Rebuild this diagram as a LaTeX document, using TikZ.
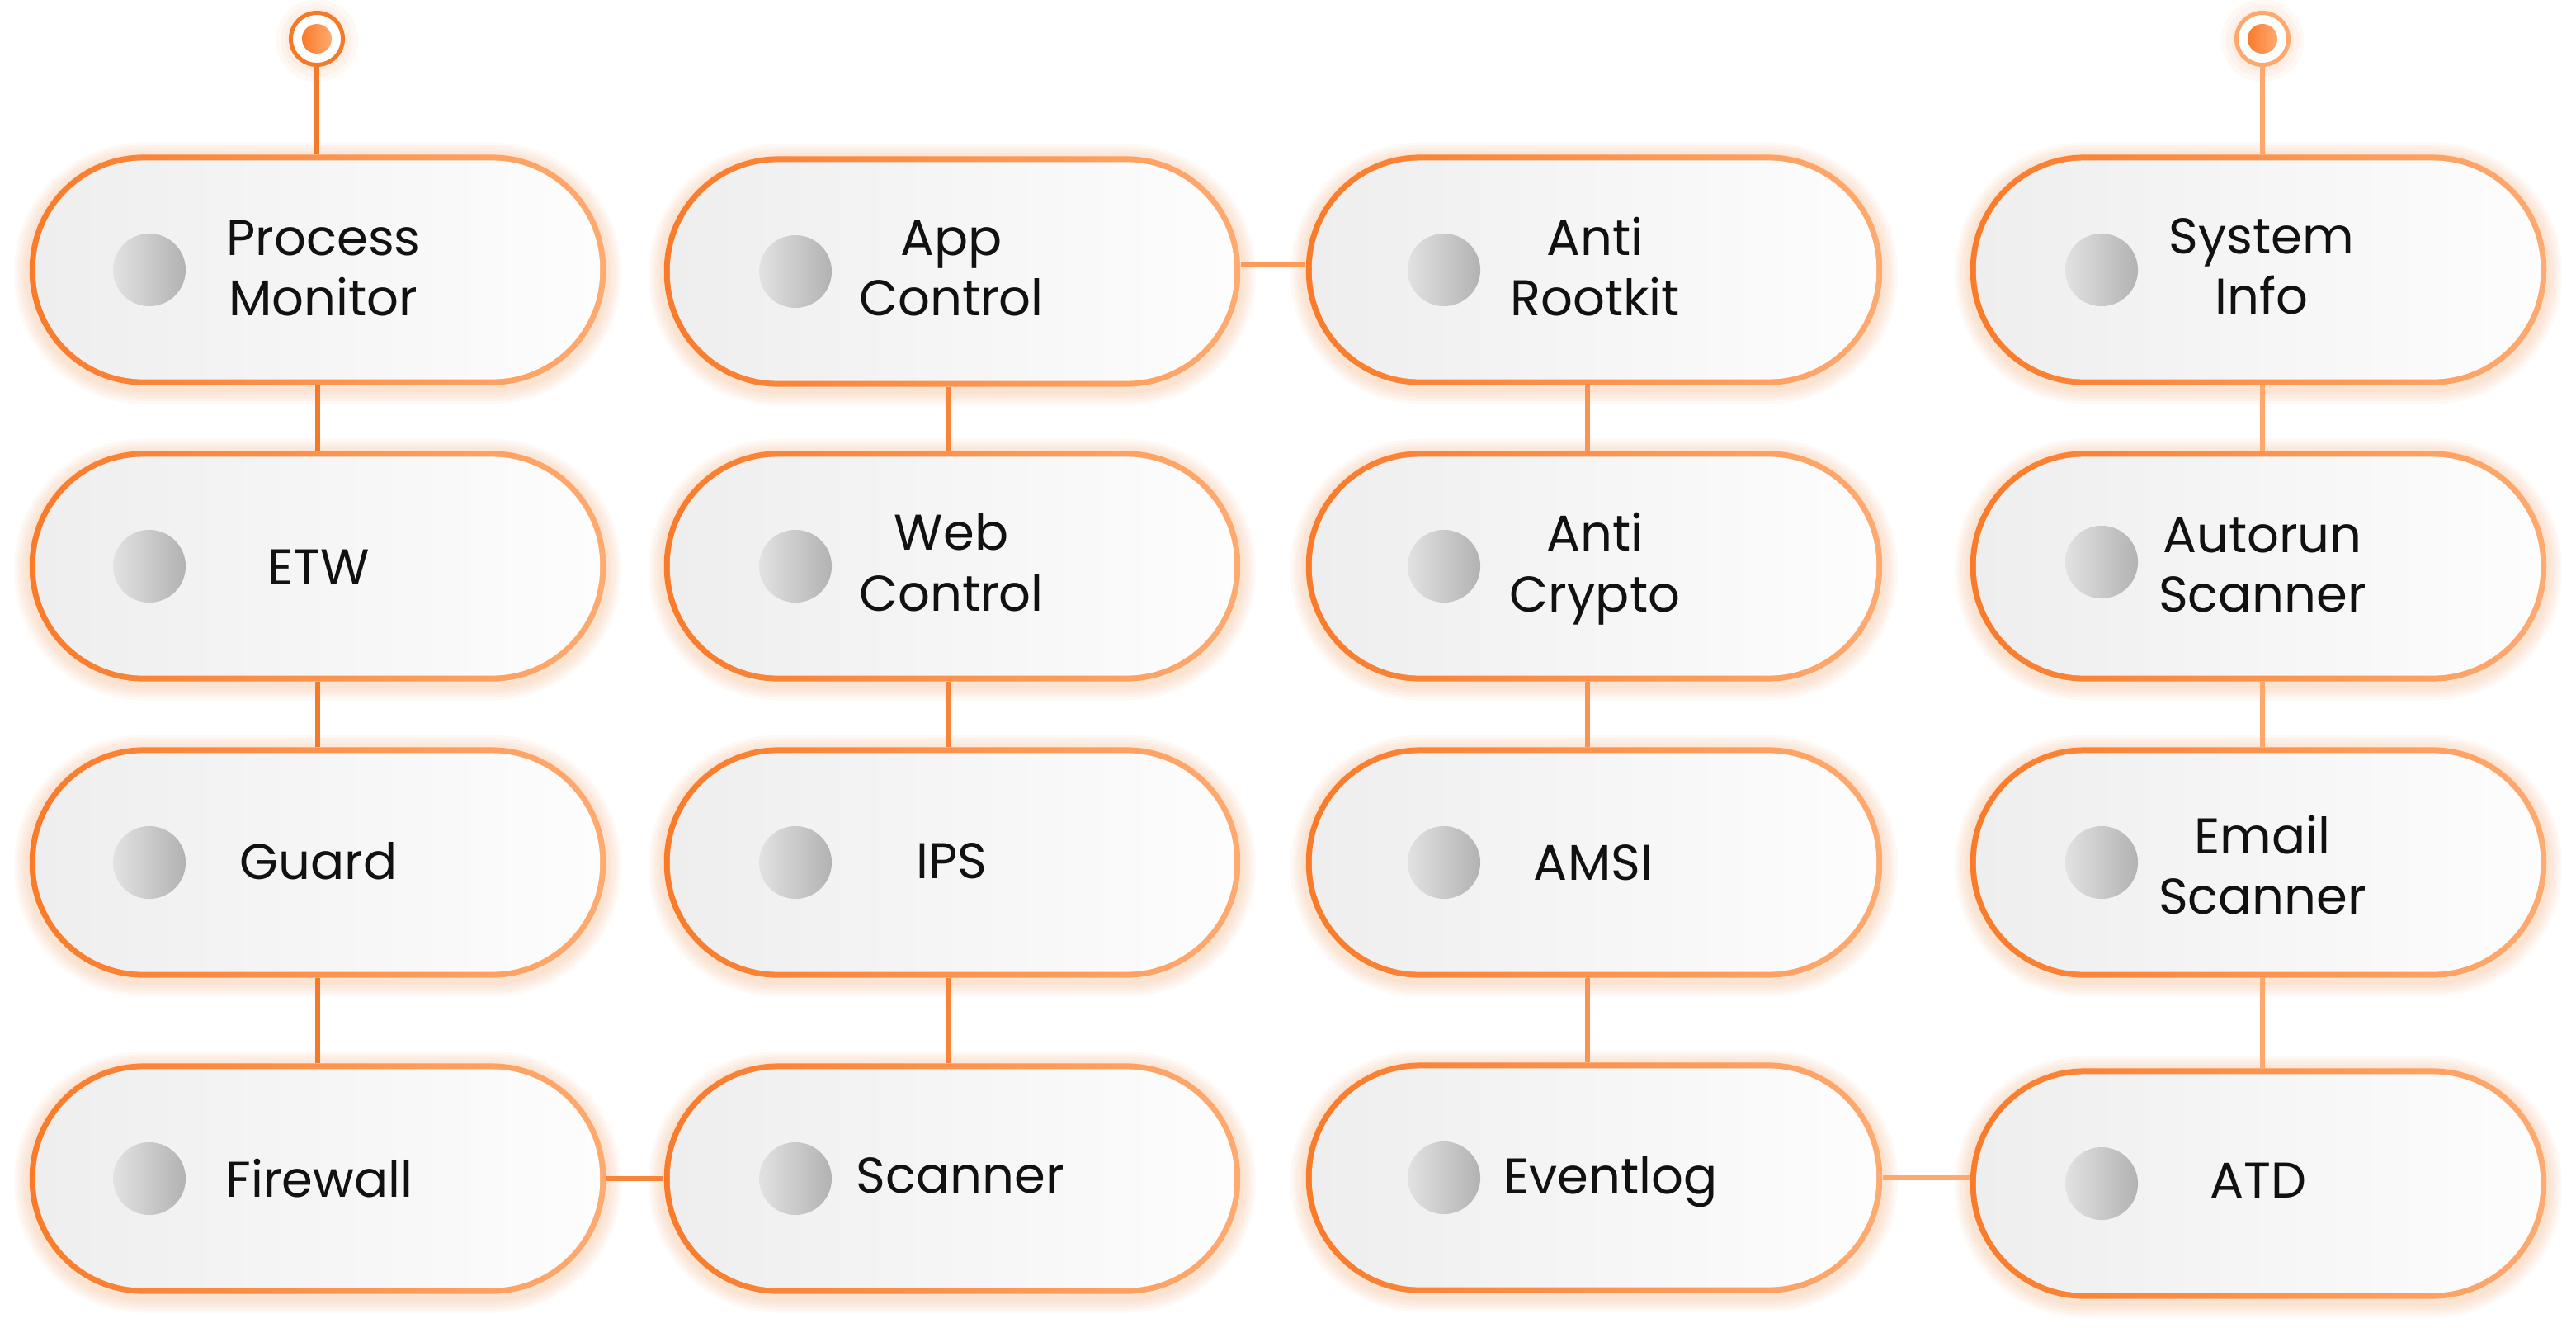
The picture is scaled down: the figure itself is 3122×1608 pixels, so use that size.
\documentclass[tikz,border=0pt]{standalone}
\usepackage{fontspec}
\setmainfont{Poppins}
\usetikzlibrary{backgrounds}
\definecolor{pillL}{HTML}{F97B2A}
\definecolor{pillR}{HTML}{FFAA70}
\definecolor{fillL}{HTML}{EEEEEE}
\definecolor{fillR}{HTML}{FDFDFD}
\definecolor{dotL}{HTML}{E2E2E2}
\definecolor{dotR}{HTML}{B2B2B2}
\definecolor{glowc}{HTML}{FB8C45}
\definecolor{lnA}{HTML}{F47A2A}
\definecolor{lnB}{HTML}{F8843A}
\definecolor{lnC}{HTML}{FA9352}
\definecolor{lnD}{HTML}{FFA86E}
\definecolor{lnH}{HTML}{FC9A5A}
\definecolor{txt}{HTML}{111111}
\tikzset{
 pill/.style={rectangle, inner sep=0pt, minimum width=6.98cm, minimum height=2.79cm, rounded corners=1.38cm,
   path picture={
     \shade[left color=pillL,right color=pillR] (path picture bounding box.south west) rectangle (path picture bounding box.north east);
     \shade[left color=fillL,right color=fillR,rounded corners=1.31cm] ([xshift=0.07cm,yshift=0.07cm]path picture bounding box.south west) rectangle ([xshift=-0.07cm,yshift=-0.07cm]path picture bounding box.north east);
   }},
 knob/.style={circle, inner sep=0pt, minimum size=0.88cm, left color=dotL, right color=dotR},
 lbl/.style={inner sep=0pt, anchor=base, text=txt, font=\fontsize{17.3pt}{20pt}\selectfont},
 conn/.style={line width=0.065cm},
 pinring/.style={circle, inner sep=0pt, minimum size=0.63cm, draw=#1, line width=0.05cm, fill=white},
 pindot/.style={circle, inner sep=0pt, minimum size=0.36cm, left color=pillL, right color=pillR},
}
\begin{document}
\begin{tikzpicture}[x=0.01cm, y=-0.01cm]
\useasboundingbox (0,0) rectangle (3122,1608);
% pills
\node[pill] (pm)   at (385,327)  {};
\node[pill] (app)  at (1154,329) {};
\node[pill] (ar)   at (1932,327) {};
\node[pill] (si)   at (2737,327) {};
\node[pill] (etw)  at (385,686)  {};
\node[pill] (wc)   at (1154,686) {};
\node[pill] (ac)   at (1932,686) {};
\node[pill] (au)   at (2737,686) {};
\node[pill] (gd)   at (385,1045) {};
\node[pill] (ips)  at (1154,1045) {};
\node[pill] (amsi) at (1932,1045) {};
\node[pill] (em)   at (2737,1045) {};
\node[pill] (fw)   at (385,1428) {};
\node[pill] (sc)   at (1154,1428) {};
\node[pill] (ev)   at (1932,1427) {};
\node[pill] (atd)  at (2737,1434) {};
% knobs
\node[knob] (pmk)   at (181,327)  {};
\node[knob] (appk)  at (964,329)  {};
\node[knob] (ark)   at (1750,327) {};
\node[knob] (sik)   at (2547,327) {};
\node[knob] (etwk)  at (181,686)  {};
\node[knob] (wck)   at (964,686)  {};
\node[knob] (ack)   at (1750,686) {};
\node[knob] (auk)   at (2547,681) {};
\node[knob] (gdk)   at (181,1045) {};
\node[knob] (ipsk)  at (964,1045) {};
\node[knob] (amsik) at (1750,1045) {};
\node[knob] (emk)   at (2547,1045) {};
\node[knob] (fwk)   at (181,1428) {};
\node[knob] (sck)   at (964,1428) {};
\node[knob] (evk)   at (1750,1427) {};
\node[knob] (atdk)  at (2547,1434) {};
% labels
\node[lbl] (pm1) at (392,309) {Process};
\node[lbl] (pm2) at (392,382) {Monitor};
\node[lbl] (app1) at (1153,309) {App};
\node[lbl] (app2) at (1153,382) {Control};
\node[lbl] (ar1) at (1933,309) {Anti};
\node[lbl] (ar2) at (1933,382) {Rootkit};
\node[lbl] (si1) at (2741,307) {System};
\node[lbl] (si2) at (2741,380) {Info};
\node[lbl] (etw1) at (386,708) {ETW};
\node[lbl] (wc1) at (1153,666) {Web};
\node[lbl] (wc2) at (1153,740) {Control};
\node[lbl] (ac1) at (1933,667) {Anti};
\node[lbl] (ac2) at (1933,741) {Crypto};
\node[lbl] (au1) at (2742,669) {Autorun};
\node[lbl] (au2) at (2742,741) {Scanner};
\node[lbl] (gd1) at (386,1065) {Guard};
\node[lbl] (ips1) at (1153,1064) {IPS};
\node[lbl] (amsi1) at (1931,1066) {AMSI};
\node[lbl] (em1) at (2742,1034) {Email};
\node[lbl] (em2) at (2742,1107) {Scanner};
\node[lbl] (fw1) at (387,1450) {Firewall};
\node[lbl] (sc1) at (1164,1445) {Scanner};
\node[lbl] (ev1) at (1952,1446) {Eventlog};
\node[lbl] (atd1) at (2737,1451) {ATD};
% top pins
\node[pinring=lnA] (t1) at (384,47) {};
\node[pindot] (t1d) at (t1) {};
\node[pinring=lnD] (t4) at (2742,47) {};
\node[pindot] (t4d) at (t4) {};
\begin{pgfonlayer}{background}
 \fill[white] (0,0) rectangle (3122,1608);
 \foreach \n in {pm,app,ar,si,etw,wc,ac,au,gd,ips,amsi,em,fw,sc,ev,atd}{
   \foreach \w in {0.36,0.29,0.22,0.15,0.08}{
     \draw[glowc, opacity=0.05, line width=\w cm, rounded corners=1.38cm]
       ([yshift=-0.04cm]\n.south west) rectangle ([yshift=-0.04cm]\n.north east);
   }
 }
 \foreach \n in {t1,t4}{
   \foreach \r in {0.50,0.44,0.38}{
     \fill[glowc, opacity=0.05] ([yshift=-0.02cm]\n.center) circle[radius=\r cm];
   }
 }
 % connectors
 \draw[conn, lnA] (t1.south) -- (t1.south |- pm.north);
 \draw[conn, lnD] (t4.south) -- (t4.south |- si.north);
 \draw[conn, lnA] (pm.south) -- (etw.north);
 \draw[conn, lnA] (etw.south) -- (gd.north);
 \draw[conn, lnA] (gd.south) -- (fw.north);
 \draw[conn, lnB] ([xshift=-0.05cm]app.south) -- ([xshift=-0.05cm]wc.north);
 \draw[conn, lnB] ([xshift=-0.05cm]wc.south) -- ([xshift=-0.05cm]ips.north);
 \draw[conn, lnB] ([xshift=-0.05cm]ips.south) -- ([xshift=-0.05cm]sc.north);
 \draw[conn, lnC] ([xshift=-0.08cm]ar.south) -- ([xshift=-0.08cm]ac.north);
 \draw[conn, lnC] ([xshift=-0.08cm]ac.south) -- ([xshift=-0.08cm]amsi.north);
 \draw[conn, lnC] ([xshift=-0.08cm]amsi.south) -- ([xshift=-0.08cm]ev.north);
 \draw[conn, lnD] ([xshift=0.05cm]si.south) -- ([xshift=0.05cm]au.north);
 \draw[conn, lnD] ([xshift=0.05cm]au.south) -- ([xshift=0.05cm]em.north);
 \draw[conn, lnD] ([xshift=0.05cm]em.south) -- ([xshift=0.05cm]atd.north);
 \draw[conn, lnH] ([yshift=0.08cm]app.east) -- ([yshift=0.08cm]app.east -| ar.west);
 \draw[conn, lnB] (fw.east) -- (sc.west);
 \draw[conn, lnD] (ev.east) -- (ev.east -| atd.west);
\end{pgfonlayer}
\end{tikzpicture}
\end{document}
